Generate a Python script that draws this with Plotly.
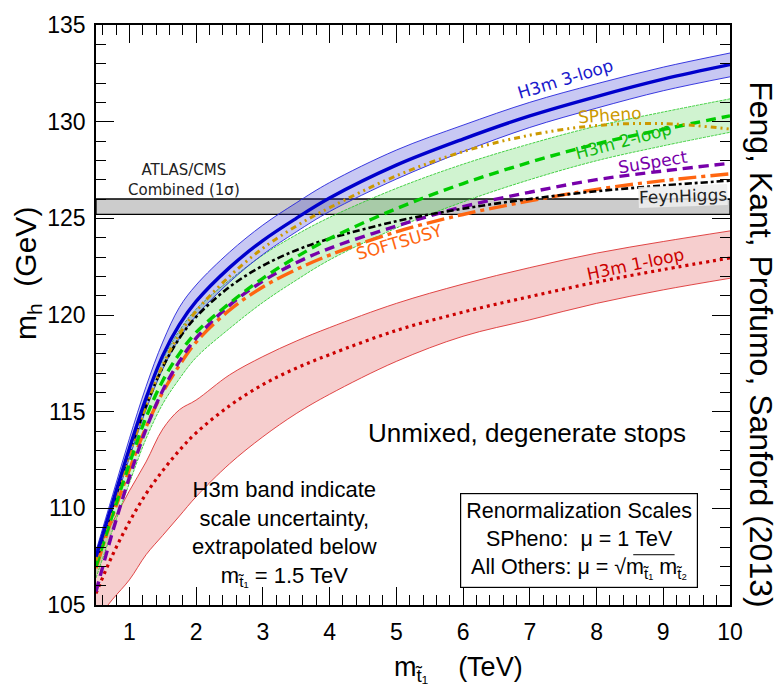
import plotly.graph_objects as go

# Stop mass grid (TeV)
x_tev = [0.5, 0.75, 1.0, 1.25, 1.5, 1.75, 2.0, 2.5, 3.0, 3.5, 4.0, 5.0, 6.0, 7.0, 8.0, 9.0, 10.0]

# Higgs mass predictions (GeV)
h3m_3loop    = [107.5, 110.3, 113.1, 115.7, 117.9, 119.5, 120.7, 122.45, 123.85, 125.0, 126.05, 127.75, 129.1, 130.3, 131.3, 132.2, 132.95]
h3m_3loop_hi = [107.8, 110.7, 113.6, 116.3, 118.6, 120.4, 121.55, 123.25, 124.65, 125.8, 126.85, 128.53, 129.82, 131.0, 131.96, 132.82, 133.55]
h3m_3loop_lo = [107.2, 109.9, 112.6, 115.1, 117.2, 118.78, 119.95, 121.7, 123.13, 124.3, 125.35, 127.03, 128.45, 129.7, 130.7, 131.6, 132.32]

h3m_2loop    = [107.0, 109.7, 112.3, 114.7, 116.6, 118.0, 119.1, 120.6, 121.9, 123.0, 123.95, 125.5, 126.8, 127.9, 128.85, 129.6, 130.3]
h3m_2loop_hi = [107.5, 110.4, 113.2, 115.7, 117.7, 119.2, 120.3, 121.8, 123.1, 124.15, 125.05, 126.55, 127.8, 128.85, 129.77, 130.5, 131.18]
h3m_2loop_lo = [106.4, 108.9, 111.3, 113.6, 115.4, 116.7, 117.8, 119.3, 120.65, 121.8, 122.85, 124.5, 125.85, 127.0, 127.98, 128.75, 129.45]

h3m_1loop    = [105.6, 107.6, 109.3, 110.75, 111.95, 113.0, 113.9, 115.3, 116.4, 117.25, 117.95, 119.2, 120.15, 120.95, 121.7, 122.35, 122.95]
h3m_1loop_hi = [107.9, 109.3, 110.9, 112.4, 114.1, 115.1, 115.6, 116.9, 117.85, 118.65, 119.35, 120.6, 121.6, 122.45, 123.2, 123.8, 124.35]
h3m_1loop_lo = [104.2, 105.3, 106.3, 107.6, 108.6, 109.6, 110.6, 112.3, 113.7, 114.9, 115.9, 117.6, 118.9, 119.75, 120.6, 121.3, 121.9]

spheno    = [107.3, 110.1, 112.8, 115.3, 117.4, 119.0, 120.2, 122.0, 123.45, 124.6, 125.55, 127.2, 128.45, 129.3, 129.8, 129.9, 129.62]
feynhiggs = [107.2, 110.1, 112.9, 115.3, 117.3, 118.8, 119.9, 121.45, 122.55, 123.35, 123.95, 124.85, 125.5, 126.0, 126.4, 126.7, 126.95]
suspect   = [105.7, 108.8, 111.6, 114.1, 116.1, 117.6, 118.8, 120.5, 121.75, 122.7, 123.45, 124.6, 125.6, 126.35, 127.0, 127.45, 127.85]
softsusy  = [106.9, 109.6, 112.0, 114.2, 116.0, 117.4, 118.6, 120.25, 121.45, 122.35, 123.1, 124.3, 125.2, 125.9, 126.5, 126.95, 127.3]

# ATLAS/CMS combined measurement, 1 sigma range (GeV)
lhc_lo, lhc_hi = 125.2, 126.0

fig = go.Figure()

fig.add_shape(type="rect", xref="paper", yref="y", x0=0, x1=1, y0=lhc_lo, y1=lhc_hi,
              fillcolor="#cccccc", line=dict(color="black", width=1.3), layer="below")

SMOOTH = 1.0


def band(lo, hi, edge, fill, dash="solid"):
    for yy, f in ((hi, None), (lo, "tonexty")):
        fig.add_trace(go.Scatter(x=x_tev, y=yy, mode="lines",
                                 line=dict(color=edge, width=0.9, dash=dash, shape="spline", smoothing=SMOOTH),
                                 fill=f, fillcolor=fill if f else None, hoverinfo="skip", showlegend=False))


band(h3m_1loop_lo, h3m_1loop_hi, "#dd3333", "rgba(220,60,60,0.25)")
band(h3m_2loop_lo, h3m_2loop_hi, "#33cc33", "rgba(40,200,40,0.22)", dash="3px,1px")
band(h3m_3loop_lo, h3m_3loop_hi, "#2626dd", "rgba(50,50,210,0.27)")


def curve(y, color, width, dash):
    fig.add_trace(go.Scatter(x=x_tev, y=y, mode="lines",
                             line=dict(color=color, width=width, dash=dash, shape="spline", smoothing=SMOOTH),
                             showlegend=False))


curve(h3m_1loop, "#cc0000", 3.2, "3px,4px")
curve(softsusy, "#ff6611", 3.4, "18px,5px,4px,5px")
curve(suspect, "#7700aa", 3.4, "10px,6px")
curve(feynhiggs, "black", 2.6, "7px,3px,3px,3px")
curve(h3m_2loop, "#00cc00", 3.4, "10px,6px")
curve(spheno, "#cc9900", 3.0, "6px,4px,2px,4px,2px,4px")
curve(h3m_3loop, "#0000cc", 3.4, "solid")

lab_font = "DejaVu Sans"
labels = [
    ("H3m 3-loop", 7.53, 132.2, -17, "#1a1acc", None),
    ("SPheno", 8.2, 130.35, -4, "#cc9900", None),
    ("H3m 2-loop", 8.4, 129.0, -15, "#11bb11", None),
    ("SuSpect", 8.85, 127.9, -9, "#7700aa", None),
    ("FeynHiggs", 9.3, 126.16, -2, "#222222", "rgba(238,238,238,0.85)"),
    ("SOFTSUSY", 5.05, 123.76, -16, "#ff6611", None),
    ("H3m 1-loop", 8.59, 122.63, -12, "#cc0000", None),
]
for txt, lx, ly, ang, col, bg in labels:
    fig.add_annotation(x=lx, y=ly, text=txt, showarrow=False, textangle=ang,
                       xanchor="center", yanchor="middle",
                       font=dict(family=lab_font, size=17, color=col),
                       bgcolor=bg if bg else "rgba(0,0,0,0)", borderpad=0)

fig.add_annotation(x=1.82, y=127.0, text="ATLAS/CMS<br>Combined (1σ)", showarrow=False,
                   xanchor="center", yanchor="middle",
                   font=dict(family=lab_font, size=15, color="#222222"), align="center")

main_font = "Liberation Sans"
NB = "\u00a0"
fig.add_annotation(x=6.96, y=113.9, text="Unmixed, degenerate stops", showarrow=False,
                   xanchor="center", yanchor="middle",
                   font=dict(family=main_font, size=26, color="black"))

fig.add_annotation(x=3.32, y=108.7,
                   text="H3m band indicate<br>scale uncertainty,<br>extrapolated below<br>m<sub>t̃₁</sub> = 1.5 TeV",
                   showarrow=False, align="center", xanchor="center", yanchor="middle",
                   font=dict(family=main_font, size=22, color="black"))

fig.add_annotation(x=7.73, y=108.35,
                   text=("Renormalization Scales<br>SPheno:" + NB * 2 + "μ = 1 TeV<br>"
                         "All Others:" + NB + "μ =" + NB + "√m<sub>t̃₁</sub>" + NB + "m<sub>t̃₂</sub>"),
                   showarrow=False, align="center", xanchor="center", yanchor="middle",
                   bordercolor="black", borderwidth=1.2, borderpad=5,
                   bgcolor="rgba(0,0,0,0)", font=dict(family=main_font, size=21.5, color="black"))
# overline of the square root
fig.add_shape(type="line", xref="x", yref="y", x0=8.55, x1=9.17, y0=107.6, y1=107.6,
              line=dict(color="black", width=1))

# Axis titles and credit
fig.add_annotation(xref="paper", yref="paper", x=(28 - 96) / 634, y=(605 - 270) / 587,
                   text="m<sub>h</sub>" + NB + " (GeV)", textangle=-90, showarrow=False,
                   xanchor="center", yanchor="middle",
                   font=dict(family=main_font, size=30, color="black"))
fig.add_annotation(xref="paper", yref="paper", x=(458 - 96) / 634, y=(605 - 670) / 587,
                   text="m<sub>t̃₁</sub>" + NB * 4 + "(TeV)", showarrow=False,
                   xanchor="center", yanchor="middle",
                   font=dict(family=main_font, size=27, color="black"))
fig.add_annotation(xref="paper", yref="paper", x=(761 - 96) / 634, y=(605 - 341) / 587,
                   text="Feng, Kant, Profumo, Sanford (2013)", textangle=90, showarrow=False,
                   xanchor="center", yanchor="middle",
                   font=dict(family=main_font, size=32, color="black"))

axis_common = dict(showgrid=False, zeroline=False, showline=True, linecolor="black", linewidth=1.5,
                   mirror="ticks", ticks="inside", tickcolor="black", tickwidth=1.3, ticklen=18,
                   tickfont=dict(family=main_font, size=23, color="black"))

fig.update_xaxes(range=[0.5, 10], tick0=0, dtick=1, ticklabelstandoff=6,
                 minor=dict(ticks="inside", dtick=0.2, tick0=0, ticklen=10, tickcolor="black", tickwidth=1.1),
                 **axis_common)
fig.update_yaxes(range=[105, 135], tick0=0, dtick=5, ticklabelstandoff=4,
                 minor=dict(ticks="inside", dtick=1, tick0=0, ticklen=10, tickcolor="black", tickwidth=1.1),
                 **axis_common)

fig.update_layout(width=780, height=685, margin=dict(l=96, r=50, t=18, b=80),
                  plot_bgcolor="white", paper_bgcolor="white", showlegend=False)

fig.write_html("out.html")
